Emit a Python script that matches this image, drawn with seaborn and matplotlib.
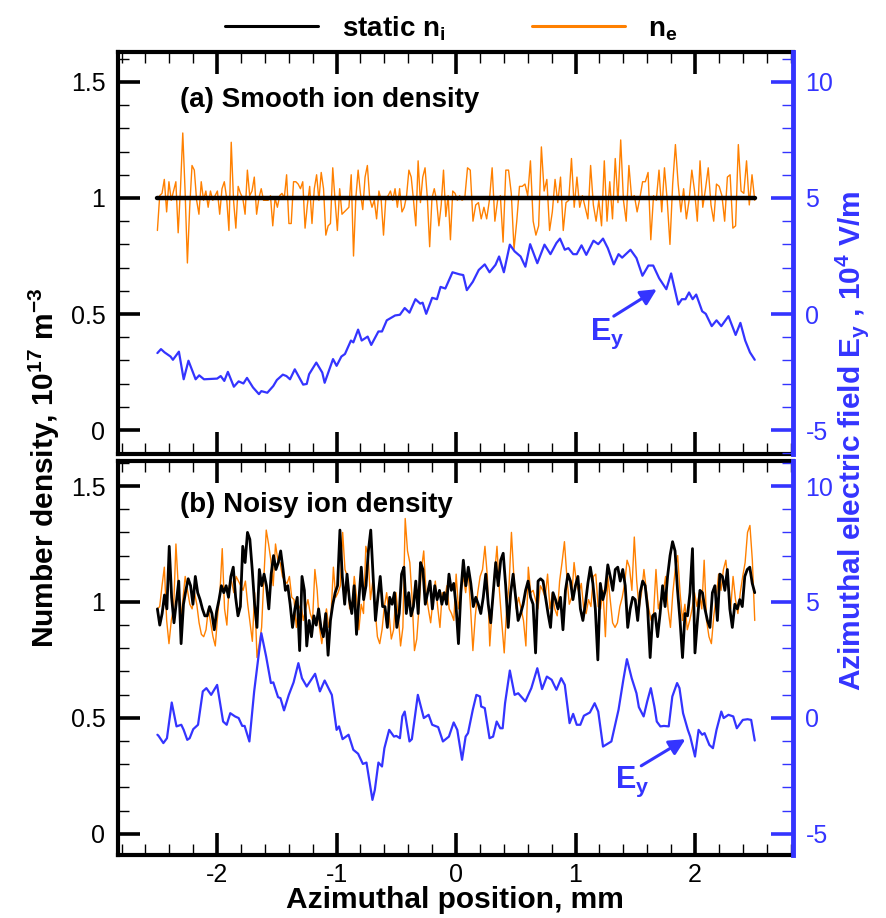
import numpy as np
import matplotlib
matplotlib.use("Agg")
import matplotlib.pyplot as plt
import seaborn as sns
from matplotlib.lines import Line2D
from matplotlib.ticker import MultipleLocator, FuncFormatter

# ---------------- data ----------------
x_range_a_left = (-2.50, 0.03)
x_range_a_right = (0.05, 2.50)
x_range_b_left = (-2.50, 0.02)
x_range_b_right = (0.04, 2.50)

ni_static_x = [-2.5, 2.5]
ni_static = [1.0, 1.0]

ne_a_left = [0.86,1.01,1.02,1.08,0.94,1.07,0.99,1.03,1.07,0.85,
             1.04,1.28,1.03,0.72,0.96,1.14,1.12,0.99,0.93,1.07,
             0.99,1.03,0.96,1.03,0.99,1.01,1.03,0.93,1.04,1.07,
             1.00,0.86,1.24,0.99,0.87,1.05,1.02,1.00,0.93,1.12,
             1.01,1.03,1.09,0.93,1.00,1.04,0.99,0.99,0.99,1.01,
             0.88,1.00,0.96,1.01,1.02,1.00,1.10,0.89,0.89,1.07,
             1.07,1.06,1.04,1.07,0.87,0.97,1.05,0.89,1.04,1.10,
             0.99,1.11,1.04,0.84,0.88,0.89,1.13,0.99,0.86,1.04,
             0.93,0.94,0.95,0.96,1.10,0.75,1.00,1.12,1.02,0.95,
             1.09,1.14,1.00,0.96,0.99,0.91,1.03,0.99,0.84,1.00,
             1.01,1.03,0.99,1.04,0.96,1.04,0.94,0.96,1.01,1.12,
             1.09,0.99,0.88,1.16,0.98,1.09,1.13,1.00,0.79,1.00,
             1.04,0.99,0.88,0.97,1.12,0.92,1.01,0.82,1.03,1.02,
             0.99,1.01]
ne_a_right = [0.99,1.00,1.13,1.12,0.90,0.97,0.98,0.91,0.96,0.91,
              0.99,1.13,0.90,0.99,1.01,0.81,1.12,1.12,1.02,0.78,
              0.90,1.05,1.05,1.06,1.01,1.16,0.90,0.84,0.88,1.22,
              1.03,1.08,0.86,0.94,1.08,0.98,1.09,0.86,0.98,0.99,
              1.17,0.96,1.09,0.96,1.01,0.96,0.91,1.14,0.97,0.90,
              0.99,0.88,1.16,0.90,1.07,0.91,1.17,0.98,1.25,0.99,
              0.90,1.14,1.00,1.01,0.94,1.00,1.07,1.07,1.11,0.82,
              1.01,0.99,1.12,0.94,1.13,0.99,0.80,1.06,1.23,1.06,
              0.94,1.04,0.91,0.99,1.12,1.03,0.90,1.16,0.96,1.04,
              1.13,0.97,0.90,1.06,1.05,1.01,0.90,1.09,1.10,0.87,
              0.88,1.23,1.03,1.02,1.16,0.97,1.10,0.99]

ey_a_x = [-2.50,-2.47,-2.44,-2.39,-2.37,-2.32,-2.28,-2.24,-2.18,-2.15,
          -2.11,-2.00,-1.97,-1.94,-1.91,-1.86,-1.82,-1.78,-1.75,-1.70,
          -1.65,-1.63,-1.58,-1.53,-1.50,-1.45,-1.42,-1.39,-1.35,-1.28,
          -1.25,-1.23,-1.17,-1.12,-1.10,-1.03,-1.00,-0.96,-0.93,-0.88,
          -0.86,-0.82,-0.79,-0.74,-0.71,-0.65,-0.62,-0.58,-0.51,-0.47,
          -0.43,-0.39,-0.34,-0.30,-0.28,-0.25,-0.20,-0.16,-0.13,-0.09,
          -0.03,0.03,0.06,0.09,0.14,0.19,0.24,0.28,0.33,0.36,
          0.40,0.45,0.49,0.54,0.58,0.62,0.68,0.74,0.79,0.84,
          0.87,0.91,0.94,0.98,1.01,1.05,1.09,1.15,1.19,1.23,
          1.27,1.32,1.36,1.39,1.46,1.51,1.56,1.61,1.65,1.70,
          1.76,1.80,1.86,1.89,1.92,1.95,1.98,2.01,2.06,2.09,
          2.14,2.18,2.22,2.28,2.34,2.38,2.42,2.46,2.50]
ey_a = [-1.68,-1.51,-1.65,-1.83,-1.97,-1.62,-2.81,-2.01,-2.81,-2.64,
        -2.81,-2.78,-2.67,-2.88,-2.49,-3.13,-2.90,-2.99,-2.75,-3.16,
        -3.45,-3.32,-3.39,-3.10,-2.84,-2.61,-2.67,-2.81,-2.38,-3.04,
        -3.01,-2.59,-2.09,-2.52,-2.96,-1.94,-2.23,-1.83,-1.72,-1.14,
        -1.22,-0.67,-1.14,-0.97,-1.33,-0.75,-0.75,-0.27,-0.06,-0.03,
        0.26,0.06,0.64,0.45,0.49,0.01,0.70,0.64,1.17,1.10,
        1.80,1.71,1.68,1.03,1.39,1.90,2.14,1.80,2.12,2.48,
        1.80,2.99,2.70,2.48,2.04,3.01,2.19,2.99,2.58,3.06,
        3.25,2.77,2.84,2.58,2.58,2.96,2.55,3.16,3.01,3.25,
        2.84,2.14,2.58,2.43,2.77,2.41,1.65,2.09,2.09,1.54,
        1.07,1.75,0.41,0.64,0.64,0.93,0.64,0.84,0.12,0.01,
        -0.52,-0.27,-0.52,-0.09,-0.90,-0.38,-1.14,-1.65,-1.97]

ni_b_left = [0.97,0.90,0.95,1.03,0.97,1.24,1.02,0.91,1.00,1.09,
             0.82,0.99,1.05,1.10,1.07,0.99,1.11,1.04,1.01,0.97,
             0.94,0.94,0.98,0.95,0.88,0.96,1.01,1.07,1.04,1.07,
             1.02,1.11,1.15,1.02,0.94,0.98,1.24,1.17,1.30,1.27,
             1.14,0.99,0.89,1.14,1.07,1.12,1.07,0.97,1.12,1.20,
             1.14,1.17,1.22,1.14,1.05,1.07,0.99,0.89,0.97,1.02,
             0.79,1.11,1.05,0.81,0.92,0.85,0.94,0.90,0.97,0.89,
             0.85,0.95,0.77,0.92,0.99,1.04,1.07,1.31,1.11,0.99,
             1.12,1.01,0.95,1.07,0.86,1.01,1.15,1.01,1.07,1.22,
             1.31,1.11,0.92,1.02,1.11,0.98,0.98,0.89,1.02,0.99,
             1.04,0.89,0.95,1.12,1.15,0.95,1.04,0.94,0.98,1.09,
             0.95,1.17,1.14,0.99,1.04,1.09,0.97,1.07,1.01,1.05,
             0.99,1.04,0.99,1.12,1.05,1.08,0.98,0.82]
ni_b_right = [1.04,1.18,1.07,1.15,1.08,0.98,1.02,0.99,0.95,1.02,
              1.12,0.99,0.91,1.04,1.17,1.07,1.18,1.21,1.07,0.89,
              1.04,1.12,1.02,0.92,0.95,0.99,1.05,1.09,1.02,0.99,
              0.78,1.09,1.10,1.09,1.02,0.95,0.89,1.04,1.01,0.97,
              1.02,0.88,1.05,1.12,1.09,1.01,1.07,1.11,0.97,0.92,
              0.99,1.08,1.15,1.08,0.97,0.75,1.08,1.01,1.05,1.16,
              1.11,1.05,1.14,1.15,1.09,1.14,1.07,0.89,0.97,1.02,
              1.01,0.92,1.04,1.09,1.07,0.97,0.76,0.94,0.95,0.85,
              0.95,1.07,0.98,1.11,1.20,1.26,1.22,1.05,0.92,0.76,
              0.95,0.94,1.04,1.23,0.78,0.92,1.05,1.04,0.97,0.92,
              0.89,1.04,1.07,0.92,1.12,1.11,1.05,1.14,0.97,0.89,
              0.99,0.97,1.01,0.98,1.11,1.14,1.15,1.08,1.04]

ne_b_left = [0.97,0.98,1.07,1.15,0.92,0.82,0.92,0.97,1.25,1.07,
             0.92,1.01,1.11,1.05,0.99,0.97,1.04,0.99,0.91,0.86,
             0.85,0.88,0.97,0.91,0.85,0.81,0.94,1.04,1.23,0.97,
             0.90,1.07,1.09,1.04,1.11,1.09,1.07,1.05,1.09,0.99,
             0.91,0.83,1.04,0.76,0.82,0.89,1.11,1.31,1.25,1.18,
             1.07,1.25,1.18,1.17,1.11,1.09,1.08,1.11,1.02,1.01,
             0.89,0.97,0.99,0.92,0.97,1.01,0.95,0.92,1.14,1.05,
             0.89,0.82,0.91,0.97,0.89,0.95,1.15,1.02,1.04,1.07,
             1.30,1.14,1.11,0.97,0.98,1.11,1.02,0.88,0.99,0.95,
             1.24,1.20,1.01,1.09,0.97,0.85,0.82,0.88,0.98,1.04,
             0.95,0.84,0.88,1.04,0.94,0.81,0.89,1.36,1.22,1.17,
             1.01,0.79,0.84,0.98,1.14,1.22,1.04,0.97,0.91,1.01,
             1.09,0.98,0.89,1.04,1.01,1.07,0.97,0.95,0.92,1.12,0.97]
ne_b_right = [1.04,1.11,1.04,1.14,0.98,0.79,0.94,1.04,1.11,1.14,
              1.24,1.11,0.81,0.97,1.12,1.24,1.05,0.91,0.78,0.97,
              1.07,1.30,1.11,0.97,1.02,0.97,0.92,0.81,1.15,1.04,
              1.05,1.01,0.97,1.07,1.05,1.02,1.12,0.97,1.04,0.97,
              0.94,1.09,1.17,1.26,1.11,0.99,1.02,1.17,1.08,1.04,
              1.08,0.97,0.95,1.01,0.98,1.11,1.12,0.98,0.97,1.05,
              0.85,1.11,1.01,0.91,0.89,0.91,0.98,1.02,1.08,1.18,
              1.15,1.05,1.28,1.09,0.97,1.04,1.14,1.05,0.97,0.92,
              0.95,1.14,0.97,1.01,1.04,1.11,0.97,0.89,1.04,1.14,
              1.20,1.04,0.92,0.99,0.88,0.92,0.97,1.04,0.98,1.04,
              0.97,1.18,0.92,0.85,0.82,0.94,1.02,1.12,1.05,1.14,
              1.18,1.07,0.97,1.11,1.01,0.95,1.04,1.11,1.17,1.30,
              1.33,1.18,0.92]

ey_b_x = [-2.50,-2.49,-2.45,-2.42,-2.38,-2.34,-2.30,-2.28,-2.25,-2.23,
          -2.20,-2.16,-2.12,-2.09,-2.05,-2.00,-1.95,-1.92,-1.89,-1.85,
          -1.82,-1.79,-1.77,-1.73,-1.69,-1.63,-1.59,-1.55,-1.53,-1.49,
          -1.47,-1.44,-1.40,-1.36,-1.32,-1.29,-1.25,-1.18,-1.14,-1.10,
          -1.04,-1.00,-0.98,-0.95,-0.90,-0.86,-0.82,-0.78,-0.75,-0.70,
          -0.68,-0.65,-0.62,-0.60,-0.56,-0.52,-0.50,-0.47,-0.45,-0.43,
          -0.39,-0.37,-0.32,-0.27,-0.23,-0.20,-0.15,-0.11,-0.06,-0.02,
          0.01,0.05,0.08,0.10,0.14,0.17,0.20,0.21,0.24,0.28,
          0.31,0.34,0.37,0.39,0.41,0.45,0.49,0.52,0.58,0.63,
          0.68,0.72,0.76,0.80,0.84,0.88,0.91,0.95,0.98,1.01,
          1.04,1.07,1.12,1.16,1.19,1.23,1.30,1.36,1.40,1.43,
          1.47,1.51,1.53,1.57,1.60,1.63,1.66,1.68,1.71,1.74,
          1.78,1.81,1.85,1.87,1.90,1.94,1.96,2.00,2.03,2.06,
          2.08,2.12,2.15,2.18,2.22,2.24,2.28,2.32,2.35,2.40,
          2.44,2.47,2.50]
ey_b = [-0.73,-0.78,-1.09,-0.88,0.66,-0.37,-0.30,-0.52,-0.95,-0.88,
        -0.49,-0.30,1.14,1.28,0.99,1.42,-0.16,-0.30,0.20,0.06,
        -0.01,-0.35,-0.35,-1.02,1.14,3.65,2.65,1.50,1.53,0.89,
        0.85,0.32,0.99,1.53,2.36,1.71,1.35,1.90,1.14,1.61,
        0.99,-0.52,-0.37,-0.92,-0.73,-1.38,-1.55,-1.99,-1.93,-3.54,
        -3.11,-1.93,-2.10,-1.31,-0.52,-0.81,-0.78,-0.88,0.06,0.27,
        -1.02,-0.92,0.99,-0.01,0.13,-0.30,-0.40,-1.02,-0.81,-0.20,
        -0.52,-1.81,-0.81,-0.66,0.35,0.99,0.92,0.49,0.42,-0.88,
        -0.81,-0.16,-0.45,-0.45,0.63,2.04,0.99,1.06,0.71,1.28,
        2.14,1.24,1.78,1.64,1.21,1.71,1.42,-0.23,0.17,-0.30,
        -0.30,0.09,0.23,0.63,0.27,-1.24,-1.02,0.35,1.64,2.53,
        1.71,1.06,0.46,0.06,0.71,1.28,0.49,-0.16,-0.37,-0.35,
        -0.37,0.92,1.50,1.28,0.20,-0.52,-0.81,-1.67,-0.52,-0.73,
        -0.66,-1.17,-1.31,-0.52,0.27,-0.01,0.13,0.06,-0.45,-0.09,
        -0.06,-0.09,-0.98]

panel_titles = ["(a) Smooth ion density", "(b) Noisy ion density"]
legend_labels = ["static n$_i$", "n$_e$"]
x_ticks = [-2, -1, 0, 1, 2]

# ---------------- style ----------------
sns.set_theme(style="white")
plt.rcParams["font.family"] = ["Liberation Sans", "DejaVu Sans"]
plt.rcParams["mathtext.default"] = "regular"
plt.rcParams["axes.unicode_minus"] = False
for key in ["text.color", "axes.labelcolor", "xtick.color", "ytick.color"]:
    plt.rcParams[key] = "black"

BLUE = "#3434ff"
ORANGE = "#ff8000"


def grid(rng, n):
    return np.linspace(rng[0], rng[1], n)


fig = plt.figure(figsize=(8.87, 9.18), dpi=100)
ax_a = fig.add_axes([0.133, 0.5054, 0.761, 0.438])
ax_b = fig.add_axes([0.133, 0.0686, 0.761, 0.4292])

ylims = [(-0.103, 1.629), (-0.092, 1.608)]
fmt = FuncFormatter(lambda v, _: f"{v:g}")


def style(ax, ylim, show_x):
    ax.set_xlim(-2.83, 2.82)
    ax.set_ylim(*ylim)
    ax.set_xticks(x_ticks)
    ax.xaxis.set_minor_locator(MultipleLocator(0.2))
    ax.yaxis.set_major_locator(MultipleLocator(0.5))
    ax.yaxis.set_minor_locator(MultipleLocator(0.1))
    ax.yaxis.set_major_formatter(fmt)
    ax.xaxis.set_major_formatter(fmt)
    ax.tick_params(which="major", direction="in", length=16, width=2.6,
                   color="black", labelcolor="black", labelsize=18,
                   top=True, bottom=True, left=True, right=False,
                   labelbottom=show_x)
    ax.tick_params(which="minor", direction="in", length=8, width=1.0,
                   color="black", top=True, bottom=True, left=True, right=False)
    ax.tick_params(axis="y", pad=9)
    ax.tick_params(axis="x", pad=6)
    for s in ["left", "top", "bottom"]:
        ax.spines[s].set_color("black")
        ax.spines[s].set_linewidth(3)
    ax.spines["right"].set_visible(False)
    ax.set_ylabel("")
    ax.set_xlabel("")


def style_twin(ax2, ylim):
    lo, hi = ylim
    ax2.set_ylim(10 * (lo - 0.5), 10 * (hi - 0.5))
    ax2.yaxis.set_major_locator(MultipleLocator(5))
    ax2.yaxis.set_minor_locator(MultipleLocator(1))
    ax2.yaxis.set_major_formatter(fmt)
    ax2.tick_params(axis="y", which="major", direction="in", length=16,
                    width=2.6, color=BLUE, labelcolor=BLUE, labelsize=18, pad=9)
    ax2.tick_params(axis="y", which="minor", direction="in", length=8,
                    width=1.0, color=BLUE)
    for s in ["left", "top", "bottom"]:
        ax2.spines[s].set_visible(False)
    ax2.spines["right"].set_color(BLUE)
    ax2.spines["right"].set_linewidth(3.5)
    ax2.set_ylabel("")
    ax2.set_xlabel("")


# ---------- panel (a) ----------
x_ne_a = np.concatenate([grid(x_range_a_left, len(ne_a_left)),
                         grid(x_range_a_right, len(ne_a_right))])
sns.lineplot(x=x_ne_a, y=ne_a_left + ne_a_right, ax=ax_a, color=ORANGE,
             lw=1.0, estimator=None, sort=False)
sns.lineplot(x=ni_static_x, y=ni_static, ax=ax_a, color="black", lw=3.2,
             estimator=None, sort=False)
style(ax_a, ylims[0], False)
ax2_a = ax_a.twinx()
sns.lineplot(x=ey_a_x, y=ey_a, ax=ax2_a, color=BLUE, lw=1.6,
             estimator=None, sort=False)
style_twin(ax2_a, ylims[0])
ax_a.set_xlim(-2.83, 2.82)

# ---------- panel (b) ----------
x_ne_b = np.concatenate([grid(x_range_b_left, len(ne_b_left)),
                         grid(x_range_b_right, len(ne_b_right))])
x_ni_b = np.concatenate([grid(x_range_b_left, len(ni_b_left)),
                         grid(x_range_b_right, len(ni_b_right))])
sns.lineplot(x=x_ne_b, y=ne_b_left + ne_b_right, ax=ax_b, color=ORANGE,
             lw=1.0, estimator=None, sort=False)
sns.lineplot(x=x_ni_b, y=ni_b_left + ni_b_right, ax=ax_b, color="black",
             lw=2.0, estimator=None, sort=False)
style(ax_b, ylims[1], True)
ax2_b = ax_b.twinx()
sns.lineplot(x=ey_b_x, y=ey_b, ax=ax2_b, color=BLUE, lw=1.6,
             estimator=None, sort=False)
style_twin(ax2_b, ylims[1])
ax_b.set_xlim(-2.83, 2.82)

# ---------- texts ----------
for ax, title in zip([ax_a, ax_b], panel_titles):
    ax.text(-2.31, 1.39, title, fontsize=20, fontweight="bold",
            va="baseline", ha="left", color="black")

arrow_kw = dict(arrowstyle="-|>", color=BLUE, lw=2.2, mutation_scale=24,
                shrinkA=0, shrinkB=0)
ax2_a.annotate("", xy=(1.68, 1.07), xytext=(1.32, -0.09), arrowprops=arrow_kw)
ax2_a.text(1.12, -1.13, "E$_y$", color=BLUE, fontsize=22, fontweight="bold",
           va="baseline", ha="left")
ax2_b.annotate("", xy=(1.92, -0.92), xytext=(1.55, -2.07), arrowprops=arrow_kw)
ax2_b.text(1.33, -3.02, "E$_y$", color=BLUE, fontsize=22, fontweight="bold",
           va="baseline", ha="left")

fig.text(0.513, 0.0045, "Azimuthal position, mm", ha="center", va="bottom",
         fontsize=21.5, fontweight="bold", color="black")
fig.text(0.050, 0.49, "Number density, 10$^{17}$ m$^{-3}$", rotation=90,
         ha="center", va="center", fontsize=21.5, fontweight="bold",
         color="black")
fig.text(0.961, 0.52, "Azimuthal electric field E$_y$ , 10$^4$ V/m",
         rotation=90, ha="center", va="center", fontsize=21.5,
         fontweight="bold", color=BLUE)

handles = [Line2D([], [], color="black", lw=2.2),
           Line2D([], [], color=ORANGE, lw=2.2)]
fig.legend(handles, legend_labels, loc="center", bbox_to_anchor=(0.509, 0.969),
           ncol=2, frameon=False, handlelength=3.35, columnspacing=3.1,
           handletextpad=0.85, prop={"weight": "bold", "size": 20})

fig.savefig("out.png", dpi=100, facecolor="white")
